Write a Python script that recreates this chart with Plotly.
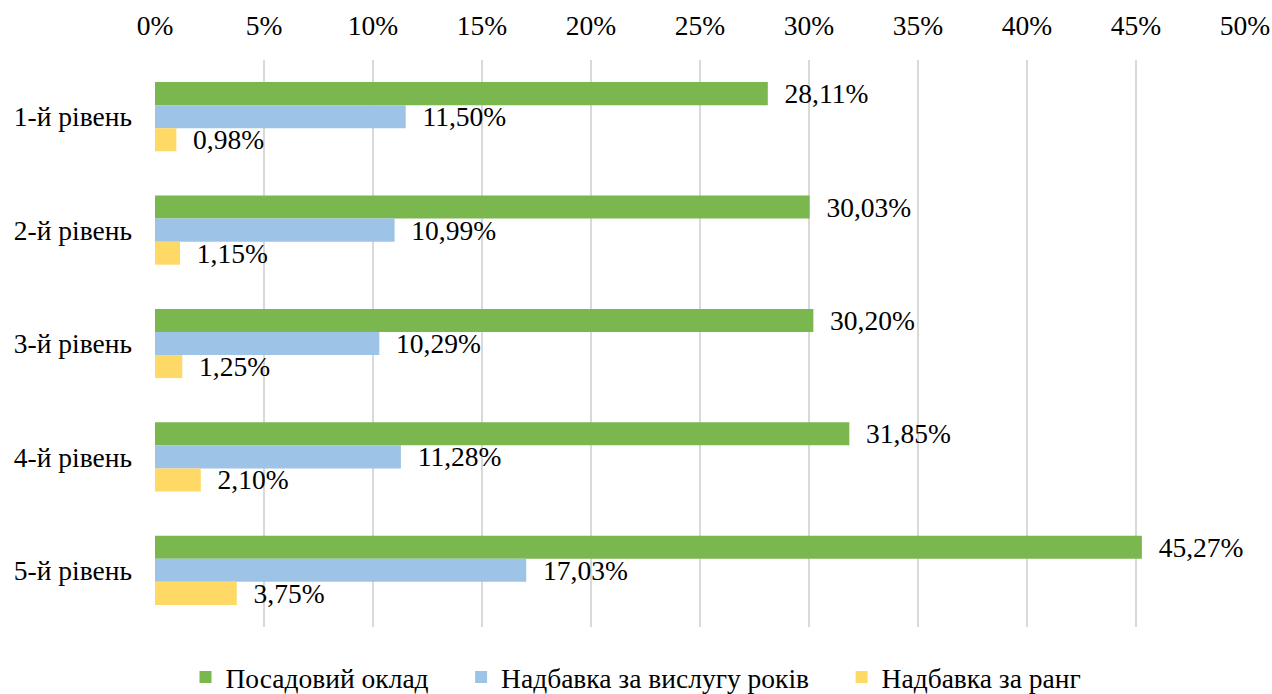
import plotly.graph_objects as go

categories = ["1-й рівень", "2-й рівень", "3-й рівень", "4-й рівень", "5-й рівень"]
series_names = ["Посадовий оклад", "Надбавка за вислугу років", "Надбавка за ранг"]
salary = [28.11, 30.03, 30.20, 31.85, 45.27]
seniority = [11.50, 10.99, 10.29, 11.28, 17.03]
rank = [0.98, 1.15, 1.25, 2.10, 3.75]
colors = ["#7AB74E", "#9DC3E6", "#FFD966"]
tick_vals = [0, 5, 10, 15, 20, 25, 30, 35, 40, 45, 50]
tick_text = [f"{v}%" for v in tick_vals]

FONT = "Liberation Serif, Times New Roman, serif"
FS = 27.5

def fmt(v):
    return "\u00a0\u00a0" + f"{v:.2f}".replace(".", ",") + "%"

fig = go.Figure()
n = len(series_names)
for i, (name, vals, col) in enumerate(zip(series_names, [salary, seniority, rank], colors)):
    label = name + ("\u00a0" * 4 if i < n - 1 else "")
    fig.add_trace(go.Bar(
        y=categories, x=vals, name=label, orientation="h",
        marker=dict(color=col, line=dict(width=0)),
        text=[fmt(v) for v in vals], textposition="outside",
        constraintext="none",
        textfont=dict(family=FONT, size=FS, color="#000000"),
        cliponaxis=False,
    ))

fig.update_layout(
    width=1272, height=694,
    margin=dict(l=155, r=27, t=60, b=67, autoexpand=False),
    barmode="group", bargap=0.39, bargroupgap=0,
    plot_bgcolor="white", paper_bgcolor="white",
    font=dict(family=FONT, size=FS, color="#000000"),
    showlegend=True,
    legend=dict(orientation="h", x=0.5, xanchor="center", xref="container",
                y=(627 - 677) / 567, yanchor="middle", yref="paper",
                font=dict(family=FONT, size=FS, color="#000000"),
                traceorder="normal", itemwidth=30),
)
fig.update_xaxes(range=[0, 50], side="top", tickvals=tick_vals, ticktext=tick_text,
                 showgrid=True, gridcolor="#D9D9D9", gridwidth=1.5, zeroline=False,
                 showline=False, ticks="", ticklabelstandoff=19, automargin=False,
                 tickfont=dict(family=FONT, size=FS, color="#000000"))
fig.update_yaxes(autorange="reversed", showgrid=False, zeroline=False, showline=False,
                 ticks="", ticklabelstandoff=22, automargin=False,
                 tickfont=dict(family=FONT, size=FS, color="#000000"))

fig.write_html("out.html", config={"displayModeBar": False},
               post_script="document.body.style.margin='0';")
